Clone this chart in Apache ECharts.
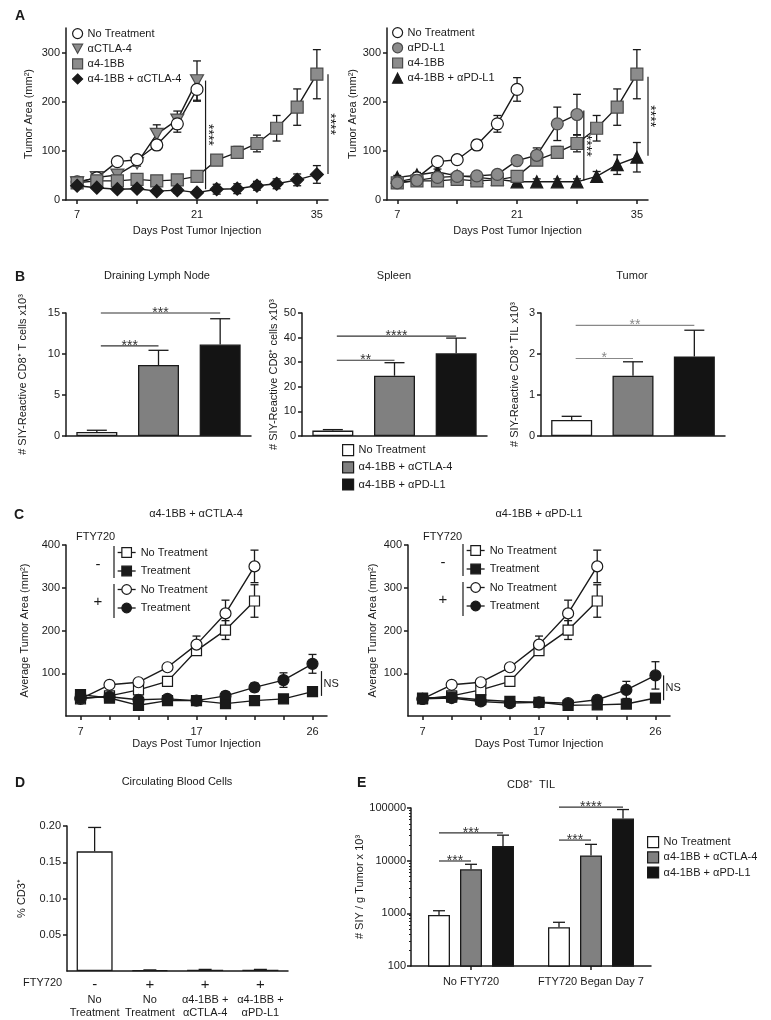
<!DOCTYPE html>
<html>
<head>
<meta charset="utf-8">
<script src="https://cdn.jsdelivr.net/npm/echarts@6/dist/echarts.min.js"></script>
<style>
  html, body { margin: 0; padding: 0; background: #fff; }
  #main { width: 771px; height: 1020px; }
</style>
</head>
<body>
<div id="main"></div>
<script>
// ---------- panel A : tumour growth ----------
var daysA = [7, 9.3, 11.7, 14, 16.3, 18.7, 21, 23.3, 25.7, 28, 30.3, 32.7, 35];
var aTicks = [7, 14, 21, 28, 35];
var aLabels = [7, 21, 35];
var aYLabels = [0, 100, 200, 300];
var aNone = [37, 45, 78, 82, 112, 155, 225];
var aNoneSem = [3, 3, 4, 4, 10, 17, 24];
var aCtla = [35, 46, 51, 75, 134, 163, 243];
var aCtlaSem = [3, 4, 5, 6, 19, 18, 40];
var a41bb = [35, 39, 39, 42, 39, 41, 48, 81, 97, 115, 146, 189, 256];
var a41bbSem = [3, 3, 3, 4, 4, 4, 5, 7, 12, 17, 26, 37, 50];
var aCombCtla = [29, 25, 22, 23, 18, 20, 15, 22, 23, 29, 33, 41, 52];
var aCombCtlaSem = [3, 3, 4, 4, 5, 6, 5, 10, 10, 9, 10, 12, 18];
var aPdl1 = [35, 40, 46, 48, 49, 52, 80, 91, 155, 174];
var aPdl1Sem = [4, 4, 4, 5, 5, 6, 10, 15, 34, 41];
var aCombPdl1 = [46, 51, 57, 49, 46, 42, 37, 37, 37, 37, 48, 72, 87];
var aCombPdl1Sem = [4, 5, 6, 5, 5, 5, 5, 6, 6, 6, 10, 20, 30];
// [day, low, high, label]
var aSigLeft = [[22, 22, 243, '****'], [36.3, 53, 256, '****']];
var aSigRight = [[28.8, 39, 182, '****'], [36.3, 90, 251, '****']];

// ---------- panel B : SIY-reactive CD8+ counts ----------
var bGroups = ['No Treatment', 'α4-1BB + αCTLA-4', 'α4-1BB + αPD-L1'];
var bDln = [0.5, 8.65, 11.15];
var bDlnHi = [0.7, 10.45, 14.3];
var bSpleen = [2.2, 24.5, 33.6];
var bSpleenHi = [2.6, 29.8, 39.8];
var bTumor = [0.39, 1.47, 1.94];
var bTumorHi = [0.48, 1.81, 2.58];
// [from, to, y, label]
var bDlnSig = [[0, 1, 11.0, '***'], [0, 2, 15.0, '***']];
var bSpleenSig = [[0, 1, 30.8, '**'], [0, 2, 40.6, '****']];
var bTumorSig = [[0, 1, 1.89, '*'], [0, 2, 2.7, '**']];

// ---------- panel C : FTY720 ----------
var cDays = ['7', '9', '12', '14', '17', '19', '21', '24', '26'];
var cNoTxMinus = [40, 47, 61, 81, 153, 201, 269];
var cNoTxMinusSem = [3, 4, 4, 5, 10, 22, 38];
var cNoTxPlus = [40, 73, 79, 114, 167, 240, 350];
var cNoTxPlusSem = [3, 4, 4, 5, 20, 31, 38];
var cTxMinusCtla = [50, 42, 25, 36, 36, 29, 36, 40, 57];
var cTxMinusCtlaSem = [3, 3, 3, 4, 4, 4, 4, 5, 6];
var cTxPlusCtla = [42, 45, 38, 40, 36, 47, 67, 84, 122];
var cTxPlusCtlaSem = [3, 3, 4, 4, 4, 10, 10, 17, 22];
var cTxMinusPdl1 = [42, 44, 38, 34, 32, 25, 26, 28, 42];
var cTxMinusPdl1Sem = [3, 3, 4, 4, 3, 3, 4, 4, 10];
var cTxPlusPdl1 = [40, 42, 34, 30, 32, 30, 38, 61, 95];
var cTxPlusPdl1Sem = [3, 3, 4, 4, 4, 4, 8, 20, 32];
// [category, low, high]
var cNsCtla = [8, 47, 105];
var cNsPdl1 = [8, 37, 95];

// ---------- panel D : circulating CD3+ ----------
var dFty = ['-', '+', '+', '+'];
var dGroups = ['No\nTreatment', 'No\nTreatment', 'α4-1BB +\nαCTLA-4', 'α4-1BB +\nαPD-L1'];
var dCd3 = [0.165, 0.0012, 0.0018, 0.0018];
var dCd3Hi = [0.198, 0.0015, 0.0022, 0.0022];

// ---------- panel E : CD8+ TIL ----------
var eGroups = ['No FTY720', 'FTY720 Began Day 7'];
var eNone = [930, 545];
var eNoneHi = [1120, 676];
var eCtla = [6860, 12600];
var eCtlaHi = [8530, 20400];
var ePdl1 = [18900, 63000];
var ePdl1Hi = [30500, 93500];
// [group, fromBar, toBar, y, label]
var eSig = [[0, 0, 1, 9860, '***'], [0, 0, 2, 33600, '***'], [1, 0, 1, 24600, '***'], [1, 0, 2, 104000, '****']];

var legendText = {
  aL0: 'No Treatment', aL1: 'αCTLA-4', aL2: 'α4-1BB', aL3: 'α4-1BB + αCTLA-4',
  aR0: 'No Treatment', aR1: 'αPD-L1', aR2: 'α4-1BB', aR3: 'α4-1BB + αPD-L1',
  b0: bGroups[0], b1: bGroups[1], b2: bGroups[2],
  cL0: 'No Treatment', cL1: 'Treatment', cL2: 'No Treatment', cL3: 'Treatment',
  cR0: 'No Treatment', cR1: 'Treatment', cR2: 'No Treatment', cR3: 'Treatment',
  e0: bGroups[0], e1: bGroups[1], e2: bGroups[2]
};

var FONT = '"Liberation Sans", Arial, Helvetica, sans-serif';
var INK = '#1a1a1a';
var GRAY = '#8c8c8c';
var GRAY_EDGE = '#4a4a4a';
var BAR_GRAY = '#808080';
var BAR_BLACK = '#141414';
var TRI_DOWN = 'path://M0,0L10,0L5,9Z';
var E_BAR = 22, E_GAP = 10;
var STAR = 14;

var myChart = echarts.init(document.getElementById('main'));

function axLine() { return {show: true, onZero: false, lineStyle: {color: INK, width: 1.5}}; }
function axTick(extra) { return Object.assign({show: true, length: 4, lineStyle: {color: INK, width: 1.5}}, extra || {}); }
function axLabel(extra) { return Object.assign({show: true, color: INK, fontFamily: FONT, fontSize: 11, margin: 6}, extra || {}); }
function nameStyle() { return {fontFamily: FONT, fontSize: 11, color: INK}; }

function yAxis(grid, min, max, interval, name, gap, label, tick) {
  return {
    gridIndex: grid, type: 'value', min: min, max: max, interval: interval,
    axisLine: axLine(), axisTick: axTick(tick), axisLabel: axLabel(label), splitLine: {show: false},
    name: name, nameLocation: 'middle', nameGap: gap, nameRotate: 90, nameTextStyle: nameStyle()
  };
}

function line(name, ax, xs, ys, symbol, size, fill, edge) {
  return {
    type: 'line', name: name, xAxisIndex: ax, yAxisIndex: ax,
    data: xs ? ys.map(function (v, i) { return [xs[i], v]; }) : ys,
    symbol: symbol, symbolSize: size, symbolKeepAspect: true, showAllSymbol: true,
    lineStyle: {color: INK, width: 1.4},
    itemStyle: {color: fill, borderColor: edge, borderWidth: 1.2, opacity: 1},
    emphasis: {disabled: true}, z: 4
  };
}

function errBars(ax, xs, ys, sem, cap) {
  return {
    type: 'custom', xAxisIndex: ax, yAxisIndex: ax, silent: true, clip: false, z: 3,
    data: ys.map(function (v, i) { return [xs ? xs[i] : i, v - sem[i], v + sem[i]]; }),
    encode: {x: 0, y: [1, 2]},
    renderItem: function (params, api) {
      var lo = api.coord([api.value(0), api.value(1)]);
      var hi = api.coord([api.value(0), api.value(2)]);
      var st = {stroke: INK, lineWidth: 1.3};
      var h = cap / 2;
      return {type: 'group', children: [
        {type: 'line', shape: {x1: lo[0], y1: lo[1], x2: hi[0], y2: hi[1]}, style: st},
        {type: 'line', shape: {x1: hi[0] - h, y1: hi[1], x2: hi[0] + h, y2: hi[1]}, style: st},
        {type: 'line', shape: {x1: lo[0] - h, y1: lo[1], x2: lo[0] + h, y2: lo[1]}, style: st}
      ]};
    }
  };
}

// upper-only error bars on bar charts, shifted by px within the category
function barErr(ax, vals, hi, cap, shift) {
  return {
    type: 'custom', xAxisIndex: ax, yAxisIndex: ax, silent: true, clip: false, z: 1,
    data: vals.map(function (v, i) { return [i, v, hi[i]]; }),
    encode: {x: 0, y: [1, 2]},
    renderItem: function (params, api) {
      var a = api.coord([api.value(0), api.value(1)]);
      var b = api.coord([api.value(0), api.value(2)]);
      var x = a[0] + (shift || 0);
      var st = {stroke: INK, lineWidth: 1.3};
      return {type: 'group', children: [
        {type: 'line', shape: {x1: x, y1: a[1], x2: x, y2: b[1]}, style: st},
        {type: 'line', shape: {x1: x - cap / 2, y1: b[1], x2: x + cap / 2, y2: b[1]}, style: st}
      ]};
    }
  };
}

function sigText(x, y, text, color) {
  return {type: 'text', x: x, y: y, style: {text: text, fill: color, fontSize: STAR, fontFamily: FONT, align: 'center', verticalAlign: 'bottom'}};
}

function sigCat(ax, items, color) {
  return {
    type: 'custom', xAxisIndex: ax, yAxisIndex: ax, silent: true, clip: false, z: 5,
    data: items.map(function (it) { return [it[0], it[2]]; }),
    encode: {x: 0, y: 1},
    renderItem: function (params, api) {
      var it = items[params.dataIndex];
      var a = api.coord([it[0], it[2]]), b = api.coord([it[1], it[2]]);
      return {type: 'group', children: [
        {type: 'line', shape: {x1: a[0] + 4, y1: a[1], x2: b[0], y2: b[1]}, style: {stroke: color, lineWidth: 1.2}},
        sigText((a[0] + b[0]) / 2 + 2, a[1] + 7, it[3], color)
      ]};
    }
  };
}

function sigGroup(ax, items, color) {
  return {
    type: 'custom', xAxisIndex: ax, yAxisIndex: ax, silent: true, clip: false, z: 5,
    data: items.map(function (it) { return [it[0], it[3]]; }),
    encode: {x: 0, y: 1},
    renderItem: function (params, api) {
      var it = items[params.dataIndex];
      var c = api.coord([it[0], it[3]]);
      var step = E_BAR + E_GAP;
      var x1 = c[0] + (it[1] - 1) * step, x2 = c[0] + (it[2] - 1) * step;
      return {type: 'group', children: [
        {type: 'line', shape: {x1: x1, y1: c[1], x2: x2, y2: c[1]}, style: {stroke: color, lineWidth: 1.2}},
        sigText((x1 + x2) / 2, c[1] + 7, it[4], color)
      ]};
    }
  };
}

function sigVert(ax, items) {
  return {
    type: 'custom', xAxisIndex: ax, yAxisIndex: ax, silent: true, clip: false, z: 5,
    data: items.map(function (it) { return [it[0], it[1], it[2]]; }),
    encode: {x: 0, y: [1, 2]},
    renderItem: function (params, api) {
      var it = items[params.dataIndex];
      var a = api.coord([it[0], it[1]]), b = api.coord([it[0], it[2]]);
      return {type: 'group', children: [
        {type: 'line', shape: {x1: a[0], y1: a[1], x2: b[0], y2: b[1]}, style: {stroke: INK, lineWidth: 1.2}},
        {type: 'text', x: a[0] + 9, y: (a[1] + b[1]) / 2, rotation: -Math.PI / 2,
          style: {text: it[3], fill: INK, fontSize: STAR, fontFamily: FONT, align: 'center', verticalAlign: 'top'}}
      ]};
    }
  };
}

function nsMark(ax, item, frac) {
  return {
    type: 'custom', xAxisIndex: ax, yAxisIndex: ax, silent: true, clip: false, z: 5,
    data: [item],
    encode: {x: 0, y: [1, 2]},
    renderItem: function (params, api) {
      var band = api.size([1, 0])[0];
      var a = api.coord([api.value(0), api.value(1)]), b = api.coord([api.value(0), api.value(2)]);
      var x = a[0] + frac * band;
      return {type: 'group', children: [
        {type: 'line', shape: {x1: x, y1: a[1], x2: x, y2: b[1]}, style: {stroke: INK, lineWidth: 1.2}},
        {type: 'text', x: x + 2, y: (a[1] + b[1]) / 2, style: {text: 'NS', fill: INK, fontSize: 11, fontFamily: FONT, align: 'left', verticalAlign: 'middle'}}
      ]};
    }
  };
}

function catBar(name, ax, vals, k, color) {
  // one colour per category, bars overlap so each sits at its category centre
  return {
    type: 'bar', name: name, xAxisIndex: ax, yAxisIndex: ax, barWidth: 41, barGap: '-100%',
    data: vals.map(function (v, i) { return i === k ? v : '-'; }),
    itemStyle: {color: color, borderColor: INK, borderWidth: 1.3},
    emphasis: {disabled: true}, z: 2
  };
}

function groupBar(name, vals, color) {
  return {
    type: 'bar', name: name, xAxisIndex: 8, yAxisIndex: 8, barWidth: E_BAR, barGap: (E_GAP / E_BAR * 100) + '%',
    data: vals, itemStyle: {color: color, borderColor: INK, borderWidth: 1.3},
    emphasis: {disabled: true}, z: 2
  };
}

function label(text, x, y, opts) {
  opts = opts || {};
  return {
    text: text, left: x, top: y, padding: 0, itemGap: 0, textAlign: opts.align || 'left', textVerticalAlign: 'top',
    textStyle: {fontFamily: FONT, fontSize: opts.size || 11, fontWeight: opts.bold ? 'bold' : 'normal', color: INK}
  };
}

function legendFmt(n) { return legendText[n] || n; }

var grids = [
  {left: 66, top: 28, width: 262, height: 172},   // A left
  {left: 387, top: 28, width: 261, height: 172},  // A right
  {left: 66, top: 313, width: 185, height: 123},  // B lymph node
  {left: 302, top: 313, width: 185, height: 123}, // B spleen
  {left: 541, top: 313, width: 184, height: 123}, // B tumour
  {left: 66, top: 545, width: 261, height: 171},  // C left
  {left: 408, top: 545, width: 262, height: 171}, // C right
  {left: 67, top: 826, width: 221, height: 145},  // D
  {left: 411, top: 808, width: 240, height: 158}  // E
].map(function (g) { return Object.assign({containLabel: false, outerBoundsMode: 'none'}, g); });

var xAxes = [
  {gridIndex: 0, type: 'value', min: 5.7, max: 36.3, axisLine: axLine(),
    axisTick: axTick({customValues: aTicks}), axisLabel: axLabel({customValues: aLabels, margin: 9}), splitLine: {show: false},
    name: 'Days Post Tumor Injection', nameLocation: 'middle', nameGap: 25, nameTextStyle: nameStyle()},
  {gridIndex: 1, type: 'value', min: 5.8, max: 36.3, axisLine: axLine(),
    axisTick: axTick({customValues: aTicks}), axisLabel: axLabel({customValues: aLabels, margin: 9}), splitLine: {show: false},
    name: 'Days Post Tumor Injection', nameLocation: 'middle', nameGap: 25, nameTextStyle: nameStyle()},
  {gridIndex: 2, type: 'category', data: bGroups, axisLine: axLine(), axisTick: {show: false}, axisLabel: {show: false}},
  {gridIndex: 3, type: 'category', data: bGroups, axisLine: axLine(), axisTick: {show: false}, axisLabel: {show: false}},
  {gridIndex: 4, type: 'category', data: bGroups, axisLine: axLine(), axisTick: {show: false}, axisLabel: {show: false}},
  {gridIndex: 5, type: 'category', data: cDays, boundaryGap: true, axisLine: axLine(),
    axisTick: axTick({alignWithLabel: true, interval: 0}),
    axisLabel: axLabel({interval: function (i) { return i % 4 === 0; }, margin: 10}),
    name: 'Days Post Tumor Injection', nameLocation: 'middle', nameGap: 22, nameTextStyle: nameStyle()},
  {gridIndex: 6, type: 'category', data: cDays, boundaryGap: true, axisLine: axLine(),
    axisTick: axTick({alignWithLabel: true, interval: 0}),
    axisLabel: axLabel({interval: function (i) { return i % 4 === 0; }, margin: 10}),
    name: 'Days Post Tumor Injection', nameLocation: 'middle', nameGap: 22, nameTextStyle: nameStyle()},
  {gridIndex: 7, type: 'category', data: dGroups.map(function (g, i) { return dFty[i] + ' ' + g.replace('\n', ' '); }),
    axisLine: axLine(), axisTick: {show: false},
    axisLabel: {interval: 0, margin: 5, color: INK, fontFamily: FONT,
      formatter: function (v, i) {
        return '{s|' + dFty[i] + '}\n' + dGroups[i].split('\n').map(function (l) { return '{t|' + l + '}'; }).join('\n');
      },
      rich: {
        s: {fontSize: 15, lineHeight: 17, fontFamily: FONT, color: INK},
        t: {fontSize: 11, lineHeight: 13, fontFamily: FONT, color: INK}
      }}},
  {gridIndex: 8, type: 'category', data: eGroups, axisLine: axLine(),
    axisTick: axTick({alignWithLabel: true, interval: 0}), axisLabel: axLabel({margin: 10, interval: 0})}
];

var yAxes = [
  yAxis(0, 0, 350, 100, 'Tumor Area (mm²)', 32, {customValues: aYLabels}, {customValues: aYLabels}),
  yAxis(1, 0, 350, 100, 'Tumor Area (mm²)', 26, {customValues: aYLabels}, {customValues: aYLabels}),
  yAxis(2, 0, 15, 5, '# SIY-Reactive CD8⁺ T cells x10³', 38),
  yAxis(3, 0, 50, 10, '# SIY-Reactive CD8⁺ cells x10³', 21),
  yAxis(4, 0, 3, 1, '# SIY-Reactive CD8⁺ TIL x10³', 21),
  yAxis(5, 0, 400, 100, 'Average Tumor Area (mm²)', 36, {showMinLabel: false}),
  yAxis(6, 0, 400, 100, 'Average Tumor Area (mm²)', 30, {showMinLabel: false}),
  yAxis(7, 0, 0.2, 0.05, '% CD3⁺', 40, {showMinLabel: false, formatter: function (v) { return v.toFixed(2); }}),
  {gridIndex: 8, type: 'log', logBase: 10, min: 100, max: 100000,
    axisLine: axLine(), axisTick: axTick(), splitLine: {show: false},
    minorTick: {show: true, splitNumber: 9, length: 2, lineStyle: {color: INK, width: 1}},
    axisLabel: axLabel({margin: 5, formatter: function (v) { return String(Math.round(v)); }}),
    name: '# SIY / g Tumor x 10³', nameLocation: 'middle', nameGap: 36, nameRotate: 90, nameTextStyle: nameStyle()}
];

var cIdx = cDays.map(function (d, i) { return i; });

var series = [
  // A left
  errBars(0, daysA, aCtla, aCtlaSem, 8),
  errBars(0, daysA, aNone, aNoneSem, 8),
  errBars(0, daysA, a41bb, a41bbSem, 8),
  errBars(0, daysA, aCombCtla, aCombCtlaSem, 8),
  line('aL1', 0, daysA, aCtla, TRI_DOWN, 13, GRAY, GRAY_EDGE),
  line('aL0', 0, daysA, aNone, 'circle', 12, '#fff', INK),
  line('aL2', 0, daysA, a41bb, 'rect', 12, GRAY, GRAY_EDGE),
  line('aL3', 0, daysA, aCombCtla, 'diamond', 13, INK, INK),
  sigVert(0, aSigLeft),
  // A right
  errBars(1, daysA, aNone, aNoneSem, 8),
  errBars(1, daysA, aPdl1, aPdl1Sem, 8),
  errBars(1, daysA, a41bb, a41bbSem, 8),
  errBars(1, daysA, aCombPdl1, aCombPdl1Sem, 8),
  line('aR3', 1, daysA, aCombPdl1, 'triangle', 12, INK, INK),
  line('aR0', 1, daysA, aNone, 'circle', 12, '#fff', INK),
  line('aR2', 1, daysA, a41bb, 'rect', 12, GRAY, GRAY_EDGE),
  line('aR1', 1, daysA, aPdl1, 'circle', 12, GRAY, GRAY_EDGE),
  sigVert(1, aSigRight),
  // B
  catBar('bl0', 2, bDln, 0, '#fff'), catBar('bl1', 2, bDln, 1, BAR_GRAY), catBar('bl2', 2, bDln, 2, BAR_BLACK),
  barErr(2, bDln, bDlnHi, 20), sigCat(2, bDlnSig, '#333'),
  catBar('b0', 3, bSpleen, 0, '#fff'), catBar('b1', 3, bSpleen, 1, BAR_GRAY), catBar('b2', 3, bSpleen, 2, BAR_BLACK),
  barErr(3, bSpleen, bSpleenHi, 20), sigCat(3, bSpleenSig, '#333'),
  catBar('bt0', 4, bTumor, 0, '#fff'), catBar('bt1', 4, bTumor, 1, BAR_GRAY), catBar('bt2', 4, bTumor, 2, BAR_BLACK),
  barErr(4, bTumor, bTumorHi, 20), sigCat(4, bTumorSig, '#888'),
  // C left
  errBars(5, cIdx, cNoTxMinus, cNoTxMinusSem, 8),
  errBars(5, cIdx, cNoTxPlus, cNoTxPlusSem, 8),
  errBars(5, cIdx, cTxMinusCtla, cTxMinusCtlaSem, 8),
  errBars(5, cIdx, cTxPlusCtla, cTxPlusCtlaSem, 8),
  line('cL0', 5, null, cNoTxMinus, 'rect', 10, '#fff', INK),
  line('cL2', 5, null, cNoTxPlus, 'circle', 11, '#fff', INK),
  line('cL3', 5, null, cTxPlusCtla, 'circle', 11, INK, INK),
  line('cL1', 5, null, cTxMinusCtla, 'rect', 10, INK, INK),
  nsMark(5, cNsCtla, 0.31),
  // C right
  errBars(6, cIdx, cNoTxMinus, cNoTxMinusSem, 8),
  errBars(6, cIdx, cNoTxPlus, cNoTxPlusSem, 8),
  errBars(6, cIdx, cTxMinusPdl1, cTxMinusPdl1Sem, 8),
  errBars(6, cIdx, cTxPlusPdl1, cTxPlusPdl1Sem, 8),
  line('cR0', 6, null, cNoTxMinus, 'rect', 10, '#fff', INK),
  line('cR2', 6, null, cNoTxPlus, 'circle', 11, '#fff', INK),
  line('cR3', 6, null, cTxPlusPdl1, 'circle', 11, INK, INK),
  line('cR1', 6, null, cTxMinusPdl1, 'rect', 10, INK, INK),
  nsMark(6, cNsPdl1, 0.28),
  // D
  {type: 'bar', name: 'd', xAxisIndex: 7, yAxisIndex: 7, barWidth: 36, data: dCd3,
    itemStyle: {color: '#fff', borderColor: INK, borderWidth: 1.3}, emphasis: {disabled: true}, z: 2},
  barErr(7, dCd3, dCd3Hi, 13),
  // E
  groupBar('e0', eNone, '#fff'), groupBar('e1', eCtla, BAR_GRAY), groupBar('e2', ePdl1, BAR_BLACK),
  barErr(8, eNone, eNoneHi, 12, -(E_BAR + E_GAP)),
  barErr(8, eCtla, eCtlaHi, 12, 0),
  barErr(8, ePdl1, ePdl1Hi, 12, E_BAR + E_GAP),
  sigGroup(8, eSig, '#333')
];

function iconItem(name, icon, fill, edge) {
  return {name: name, icon: icon, itemStyle: {color: fill, borderColor: edge, borderWidth: 1.2}};
}
function lineItem(name, fill) {
  return {name: name, itemStyle: {color: fill, borderColor: INK, borderWidth: 1.2}, lineStyle: {color: INK, width: 1.3}};
}
function legendBox(left, top, w, h, gap, data) {
  return {orient: 'vertical', left: left, top: top, padding: 0, itemWidth: w, itemHeight: h, itemGap: gap,
    selectedMode: false, formatter: legendFmt, data: data,
    textStyle: {fontFamily: FONT, fontSize: 11, color: INK}};
}

var legends = [
  legendBox(72, 28, 10, 10, 4, [
    iconItem('aL0', 'circle', '#fff', INK), iconItem('aL1', TRI_DOWN, GRAY, GRAY_EDGE),
    iconItem('aL2', 'rect', GRAY, GRAY_EDGE), iconItem('aL3', 'diamond', INK, INK)]),
  legendBox(392, 27, 10, 10, 4, [
    iconItem('aR0', 'circle', '#fff', INK), iconItem('aR1', 'circle', GRAY, GRAY_EDGE),
    iconItem('aR2', 'rect', GRAY, GRAY_EDGE), iconItem('aR3', 'triangle', INK, INK)]),
  legendBox(342, 444, 11, 11, 5, [
    iconItem('b0', 'rect', '#fff', INK), iconItem('b1', 'rect', BAR_GRAY, INK), iconItem('b2', 'rect', BAR_BLACK, INK)]),
  legendBox(117, 547, 18, 12, 7.5, [lineItem('cL0', '#fff'), lineItem('cL1', INK), lineItem('cL2', '#fff'), lineItem('cL3', INK)]),
  legendBox(466, 545, 18, 12, 7.5, [lineItem('cR0', '#fff'), lineItem('cR1', INK), lineItem('cR2', '#fff'), lineItem('cR3', INK)]),
  legendBox(647, 836, 11, 11, 3, [
    iconItem('e0', 'rect', '#fff', INK), iconItem('e1', 'rect', BAR_GRAY, INK), iconItem('e2', 'rect', BAR_BLACK, INK)])
];

var titles = [
  label('A', 15, 9, {bold: true, size: 14}),
  label('B', 15, 270, {bold: true, size: 14}),
  label('C', 14, 508, {bold: true, size: 14}),
  label('D', 15, 776, {bold: true, size: 14}),
  label('E', 357, 776, {bold: true, size: 14}),
  label('Draining Lymph Node', 157, 270, {align: 'center'}),
  label('Spleen', 394, 270, {align: 'center'}),
  label('Tumor', 632, 270, {align: 'center'}),
  label('α4-1BB + αCTLA-4', 196, 508, {align: 'center'}),
  label('α4-1BB + αPD-L1', 539, 508, {align: 'center'}),
  label('Circulating Blood Cells', 177, 776, {align: 'center'}),
  label('CD8⁺  TIL', 531, 779, {align: 'center'}),
  label('FTY720', 76, 531),
  label('FTY720', 423, 531),
  label('-', 98, 557, {align: 'center', size: 15}),
  label('+', 98, 594, {align: 'center', size: 15}),
  label('-', 443, 555, {align: 'center', size: 15}),
  label('+', 443, 592, {align: 'center', size: 15}),
  label('FTY720', 23, 977)
];

function bracket(x, y1, y2) {
  return {type: 'line', shape: {x1: x, y1: y1, x2: x, y2: y2}, style: {stroke: INK, lineWidth: 1.2}, silent: true};
}

var option = {
  animation: false,
  backgroundColor: '#fff',
  textStyle: {fontFamily: FONT},
  title: titles,
  legend: legends,
  grid: grids,
  xAxis: xAxes,
  yAxis: yAxes,
  series: series,
  graphic: [
    bracket(114, 546, 578), bracket(114, 584, 618),
    bracket(463, 544, 576), bracket(463, 582, 616)
  ]
};
myChart.setOption(option);
</script>
</body>
</html>
